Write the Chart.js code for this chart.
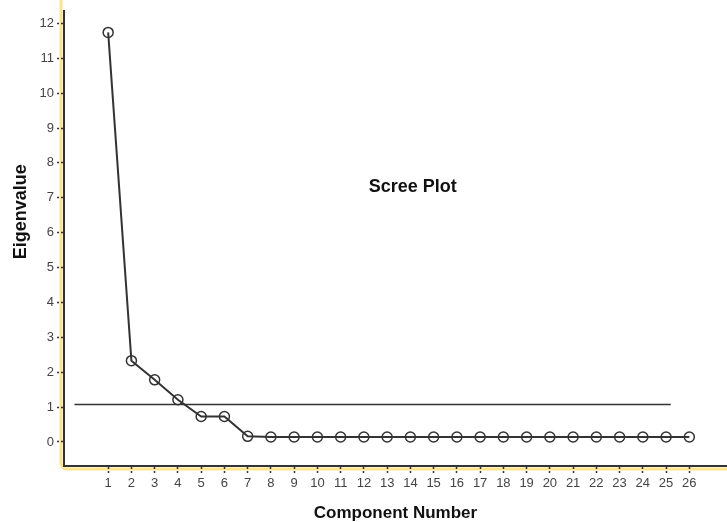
<!DOCTYPE html>
<html lang="en">
<head>
    <meta charset="UTF-8">
    <title>Scree Plot</title>
    <style>
        body { margin: 0; background: #fff; }
        #wrap { width: 727px; height: 522px; position: relative; }
    </style>
    <script src="https://cdn.jsdelivr.net/npm/chart.js"></script>
</head>
<body>
<div id="wrap"><canvas id="scree"></canvas></div>

<script>
    // component numbers and their eigenvalues
    const components = [1, 2, 3, 4, 5, 6, 7, 8, 9, 10, 11, 12, 13, 14, 15, 16, 17, 18, 19, 20, 21, 22, 23, 24, 25, 26];
    const eigenvalues = [11.74, 2.33, 1.78, 1.21, 0.73, 0.73, 0.16, 0.14, 0.14, 0.14, 0.14, 0.14, 0.14,
        0.14, 0.14, 0.14, 0.14, 0.14, 0.14, 0.14, 0.14, 0.14, 0.14, 0.14, 0.14, 0.14];
    const yTicks = [0, 1, 2, 3, 4, 5, 6, 7, 8, 9, 10, 11, 12];

    // horizontal reference line
    const refLineX = [-0.45, 25.2];
    const refLineY = [1.07, 1.07];

    const fontFam = '"Liberation Sans", Arial, sans-serif';
    const ink = '#333';

    const decor = {
        id: 'decor',
        beforeDraw(chart) {
            const { ctx, chartArea: a, width } = chart;
            const x = a.left - 3, y = a.bottom + 3, r = 6;
            ctx.save();
            ctx.strokeStyle = '#fbe48c';
            ctx.lineWidth = 3;
            ctx.beginPath();
            ctx.moveTo(x, 0);
            ctx.lineTo(x, y - r);
            ctx.arcTo(x, y, x + r, y, r);
            ctx.lineTo(width, y);
            ctx.stroke();
            ctx.restore();
        },
        afterDraw(chart) {
            const { ctx } = chart;
            const xs = chart.scales.x, ys = chart.scales.y;
            ctx.save();
            ctx.fillStyle = '#111';
            ctx.textAlign = 'center';
            ctx.textBaseline = 'middle';
            ctx.font = 'bold 18px ' + fontFam;
            ctx.fillText('Scree Plot', xs.getPixelForValue(14.1), ys.getPixelForValue(7.3));
            // y axis title
            ctx.translate(21, ys.getPixelForValue(6.6));
            ctx.rotate(-Math.PI / 2);
            ctx.fillText('Eigenvalue', 0, 0);
            ctx.restore();
        }
    };

    new Chart(document.getElementById('scree'), {
        type: 'scatter',
        data: {
            datasets: [
                {
                    data: components.map((c, i) => ({ x: c, y: eigenvalues[i] })),
                    showLine: true,
                    borderColor: ink,
                    borderWidth: 2,
                    pointRadius: 5,
                    pointBorderWidth: 1.5,
                    pointBorderColor: ink,
                    pointBackgroundColor: 'rgba(255,255,255,0)',
                    tension: 0
                },
                {
                    data: refLineX.map((v, i) => ({ x: v, y: refLineY[i] })),
                    showLine: true,
                    borderColor: ink,
                    borderWidth: 1.5,
                    pointRadius: 0
                }
            ]
        },
        options: {
            responsive: true,
            maintainAspectRatio: false,
            animation: false,
            layout: { autoPadding: false, padding: { top: 9, right: 0, left: 0, bottom: 0 } },
            plugins: {
                legend: { display: false },
                tooltip: { enabled: false }
            },
            scales: {
                x: {
                    type: 'linear',
                    min: -0.9,
                    max: 27.62,
                    afterBuildTicks: s => { s.ticks = components.map(v => ({ value: v })); },
                    afterFit: s => { s.height = 56; },
                    border: { display: true, color: ink, width: 2 },
                    grid: {
                        drawOnChartArea: false,
                        tickLength: 7,
                        tickColor: ink,
                        tickWidth: 1.5,
                        tickBorderDash: [2, 2]
                    },
                    ticks: {
                        color: '#444',
                        padding: 3,
                        maxRotation: 0,
                        autoSkip: false,
                        font: { family: fontFam, size: 13 }
                    },
                    title: {
                        display: true,
                        text: 'Component Number',
                        color: '#111',
                        padding: 0,
                        font: { family: fontFam, size: 17, weight: 'bold', lineHeight: 1 }
                    }
                },
                y: {
                    min: -0.69,
                    max: 12.36,
                    afterBuildTicks: s => { s.ticks = yTicks.map(v => ({ value: v })); },
                    afterFit: s => { s.width = 64; },
                    border: { display: true, color: ink, width: 2 },
                    grid: {
                        drawOnChartArea: false,
                        tickLength: 7,
                        tickColor: ink,
                        tickWidth: 1.5,
                        tickBorderDash: [2, 2]
                    },
                    ticks: {
                        color: '#444',
                        padding: 3,
                        font: { family: fontFam, size: 13 }
                    }
                }
            }
        },
        plugins: [decor]
    });
</script>
</body>
</html>
